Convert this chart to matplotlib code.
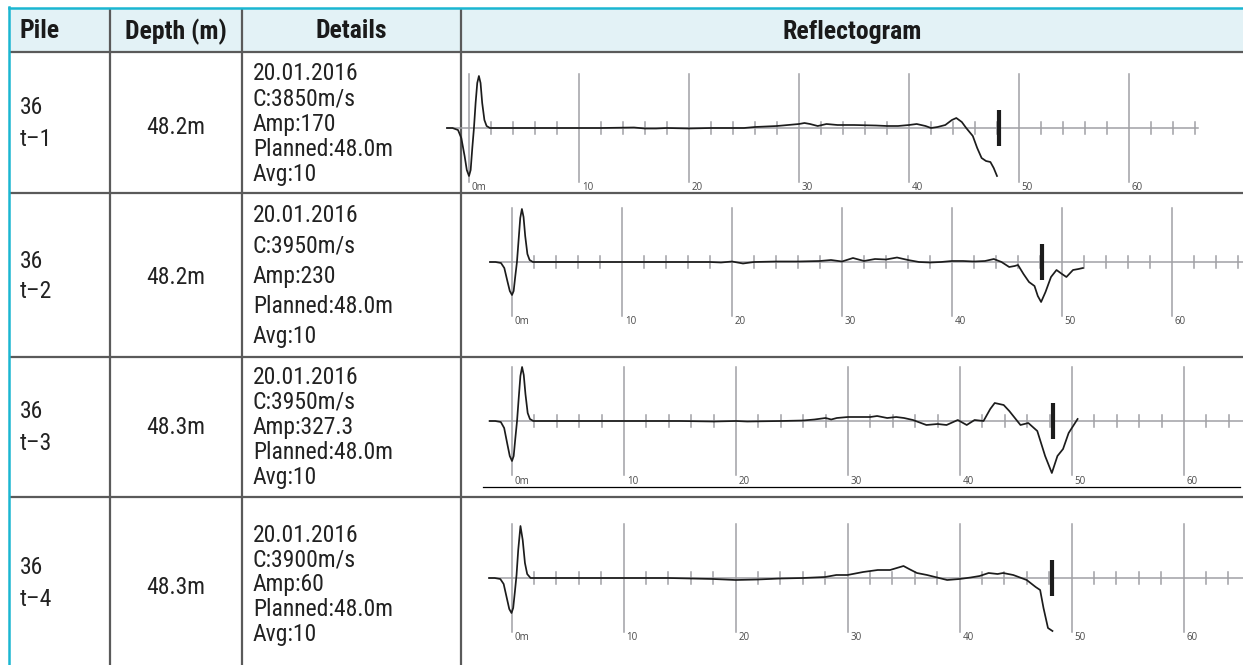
#!/usr/bin/env python3
"""Pile integrity test table with reflectograms."""

import matplotlib
matplotlib.use("Agg")
import matplotlib.pyplot as plt
from matplotlib import font_manager
from matplotlib.patches import Rectangle


# --- data -----------------------------------------------------------------
HEADERS = ["Pile", "Depth (m)", "Details", "Reflectogram"]
PILE_NO = ["36", "36", "36", "36"]
TEST_ID = ["t\u20131", "t\u20132", "t\u20133", "t\u20134"]
DEPTH_M = [48.2, 48.2, 48.3, 48.3]
TEST_DATE = ["20.01.2016", "20.01.2016", "20.01.2016", "20.01.2016"]
WAVE_SPEED = [3850, 3950, 3950, 3900]
AMP = ["170", "230", "327.3", "60"]
PLANNED_M = [48.0, 48.0, 48.0, 48.0]
AVG = [10, 10, 10, 10]
MAJOR_TICKS = [0, 10, 20, 30, 40, 50, 60]

TRACE1_M = [-2.0, -1.5, -1.0, -0.7, -0.4, -0.2, 0.0, 0.15, 0.3, 0.45,
            0.6, 0.75, 0.9, 1.05, 1.2, 1.4, 1.6, 1.9, 4, 8,
            12, 15, 16, 17, 18, 20, 22, 24, 25, 26,
            27, 28, 29, 30, 30.5, 31, 31.7, 32.5, 33.5, 35,
            37, 38, 39, 40, 40.7, 41.5, 42, 42.6, 43.3, 43.9,
            44.3, 44.8, 45.2, 45.8, 46.2, 46.6, 47.0, 47.4, 47.7, 48.0]
TRACE1_AMP = [0, 0, -2, -10, -28, -42, -48, -42, -20, 0,
              25, 45, 52, 45, 25, 8, 2, 0, 0, 0,
              0, 0.5, -0.5, -0.5, 0, -0.5, 0, 0, 0, 1,
              1.5, 2, 3, 4, 5, 4, 2, 4, 3, 3,
              2.5, 2, 2, 3, 4, 2, 0, 1, 3, 8,
              10, 6, 0, -8, -20, -30, -33, -34, -40, -48]

TRACE2_M = [-2.0, -1.5, -1.0, -0.7, -0.4, -0.2, 0.0, 0.15, 0.3, 0.45,
            0.6, 0.75, 0.9, 1.05, 1.2, 1.4, 1.6, 1.9, 5, 10,
            15, 18, 19, 20, 21, 22, 24, 26, 28, 29,
            30, 31, 32, 33, 34, 35, 36, 37, 38, 39,
            40, 41, 42, 43, 43.8, 44.5, 45.2, 45.7, 46.0, 46.5,
            47.0, 47.5, 47.8, 48.1, 48.5, 49.0, 49.5, 50.0, 50.4, 51.0,
            51.5, 51.9]
TRACE2_AMP = [0, 0, -1, -6, -20, -29, -33, -29, -14, 0,
              22, 44, 53, 45, 26, 8, 2, 0, 0, 0,
              0, 0, -0.5, 0.5, -1.5, 0, 0.5, 0.5, 1, 2,
              0.5, 4, 1, 3, 2.5, 4.5, 2, 0, -0.5, 0,
              1, 1, 0.5, 1, 3, 0, -5, -4, -3, -12,
              -20, -24, -34, -40, -30, -15, -8, -12, -15, -8,
              -7, -6]

TRACE3_M = [-2.0, -1.5, -1.0, -0.7, -0.4, -0.2, 0.0, 0.15, 0.3, 0.45,
            0.6, 0.75, 0.9, 1.05, 1.2, 1.4, 1.6, 1.9, 5, 10,
            15, 18, 20, 21, 24, 26, 27, 28, 28.5, 29,
            30, 31, 32, 32.6, 33.5, 34.3, 35, 35.8, 37, 38,
            38.8, 39.8, 40.6, 41.3, 42.1, 42.7, 43.1, 43.9, 44.4, 45.4,
            46.1, 46.9, 47.6, 48.2, 48.7, 49.2, 49.7, 50.5]
TRACE3_AMP = [0, 0, -1, -7, -24, -35, -40, -35, -17, 0,
              23, 45, 54, 46, 27, 8, 2, 0, 0, 0,
              0, -0.5, 0, -0.5, 0, 0.5, 1.5, 3, 1.5, 3,
              4, 4, 4, 5, 3, 4, 3, 1, -4, -3,
              -4, 1, -4, 1, 0, 12, 18, 16, 10, -4,
              -2, -10, -35, -52, -35, -28, -12, 2]

TRACE4_M = [-2.0, -1.5, -1.0, -0.7, -0.4, -0.2, 0.0, 0.15, 0.3, 0.45,
            0.6, 0.8, 1.0, 1.2, 1.4, 1.7, 5, 10, 14, 16,
            18, 20, 22, 24, 26, 28, 29, 30, 31.4, 32.7,
            33.8, 35.0, 35.5, 36.2, 37.1, 38.9, 40.0, 41.0, 41.8, 42.6,
            43.4, 43.9, 44.8, 46.0, 46.8, 47.2, 47.5, 47.9, 48.3]
TRACE4_AMP = [0, 0, -1, -6, -21, -31, -35, -30, -14, 3,
              28, 52, 38, 15, 4, 0, 0, 0, 0, -0.5,
              -1, -2, -1.5, -0.5, 0, 1, 3, 3, 6, 8,
              8, 12, 9, 5, 3, -2, -1, 0.5, 2, 5,
              4, 5, 3, -2, -9, -12, -30, -50, -53]

TRACES = [(TRACE1_M, TRACE1_AMP), (TRACE2_M, TRACE2_AMP),
          (TRACE3_M, TRACE3_AMP), (TRACE4_M, TRACE4_AMP)]

# --- layout (pixels) --------------------------------------------------------
W, H = 1243, 665
COL_X = [9, 110, 242, 461, W]
ROW_Y = [9, 52, 193, 357, 497, H]
ZERO_PX = [469, 512, 512, 511.5]
PX_PER_M = [11.0, 11.0, 11.2, 11.2]
BASE_PX = [128, 262, 421, 578]
AXIS_END_M = [66.3, 70, 70, 70]
PILE_Y = [(108, 140), (262, 292), (412, 443), (568, 600)]
DEPTH_Y = [127, 277, 428, 587]
DETAIL_Y0 = [74, 215, 377, 535]
DETAIL_STEP = [25.2, 30.5, 25.2, 25.0]

LINE = "#5a5a5a"
CYAN = "#1bb6d1"
HEAD_BG = "#e3f2f6"
GRID = "#a0a0a5"
INK = "#1c1c1c"

installed = {f.name for f in font_manager.fontManager.ttflist}
candidates = ["Roboto Condensed", "Archivo Narrow", "PT Sans Narrow",
              "IBM Plex Sans Condensed", "Liberation Sans Narrow"]
narrow_name = next((n for n in candidates if n in installed), "DejaVu Sans")
NARROW = [narrow_name, "DejaVu Sans"]

fig = plt.figure(figsize=(W / 100, H / 100), dpi=100)
bg = fig.add_axes([0, 0, 1, 1])
bg.set_xlim(0, W)
bg.set_ylim(H, 0)
bg.axis("off")

bg.add_patch(Rectangle((COL_X[0], ROW_Y[0]), W - COL_X[0], ROW_Y[1] - ROW_Y[0],
                       facecolor=HEAD_BG, edgecolor="none"))
for y in ROW_Y[1:-1]:
    bg.plot([COL_X[0], W], [y, y], color=LINE, lw=1.6, solid_capstyle="butt")
for x in COL_X[1:-1]:
    bg.plot([x, x], [ROW_Y[0], H], color=LINE, lw=1.6, solid_capstyle="butt")
bg.plot([COL_X[0], W], [ROW_Y[0] - 1, ROW_Y[0] - 1], color=CYAN, lw=1.8)
bg.plot([COL_X[0], COL_X[0]], [ROW_Y[0] - 2, H], color=CYAN, lw=1.8)

# header
head_y = (ROW_Y[0] + ROW_Y[1]) / 2 + 1
bg.text(20, head_y, HEADERS[0], ha="left", va="center", fontsize=18.5,
        fontweight="bold", family=NARROW, color="#1a1a1a")
for i in range(1, 4):
    bg.text((COL_X[i] + COL_X[i + 1]) / 2, head_y, HEADERS[i], ha="center",
            va="center", fontsize=18.5, fontweight="bold", family=NARROW,
            color="#1a1a1a")

# body text
for r in range(4):
    kw = dict(va="center", fontsize=17, family=NARROW, color="#222222")
    bg.text(20, PILE_Y[r][0], PILE_NO[r], ha="left", **kw)
    bg.text(20, PILE_Y[r][1], TEST_ID[r], ha="left", **kw)
    bg.text((COL_X[1] + COL_X[2]) / 2, DEPTH_Y[r], f"{DEPTH_M[r]:.1f}m",
            ha="center", **kw)
    lines = [TEST_DATE[r], f"C:{WAVE_SPEED[r]}m/s", f"Amp:{AMP[r]}",
             f"Planned:{PLANNED_M[r]:.1f}m", f"Avg:{AVG[r]}"]
    for k, line in enumerate(lines):
        bg.text(253, DETAIL_Y0[r] + k * DETAIL_STEP[r], line, ha="left", **kw)

# reflectograms
for r in range(4):
    top, bot = ROW_Y[r + 1], ROW_Y[r + 2]
    ax = fig.add_axes([COL_X[3] / W, 1 - bot / H, (W - COL_X[3]) / W, (bot - top) / H])
    ax.set_xlim((COL_X[3] - ZERO_PX[r]) / PX_PER_M[r], (W - ZERO_PX[r]) / PX_PER_M[r])
    ax.set_ylim(-(bot - BASE_PX[r]), BASE_PX[r] - top)
    ax.axis("off")
    ax.patch.set_alpha(0)

    ax.plot([-2, AXIS_END_M[r]], [0, 0], color=GRID, lw=1.1, zorder=1, clip_on=False)
    for m in range(2, 67, 2):
        if m % 10:
            ax.plot([m, m], [-6, 6], color=GRID, lw=1.1, zorder=1)
    for m in MAJOR_TICKS:
        ax.plot([m, m], [-54, 54], color=GRID, lw=1.1, zorder=1)
        ax.text(m + 0.25, -60, "0m" if m == 0 else str(m), ha="left", va="center",
                fontsize=7, family=["Open Sans", "DejaVu Sans"], color="#4a4a4a")

    xs, ys = TRACES[r]
    ax.plot(xs, ys, color=INK, lw=1.25, solid_joinstyle="round", zorder=3,
            clip_on=False)
    ax.plot([DEPTH_M[r], DEPTH_M[r]], [-18, 18], color=INK, lw=3.0,
            solid_capstyle="butt", zorder=4)

    if r == 2:
        ax.plot([-2.6, 65.0], [-66, -66], color="black", lw=0.9, zorder=2)

fig.savefig("out.png", dpi=100)
